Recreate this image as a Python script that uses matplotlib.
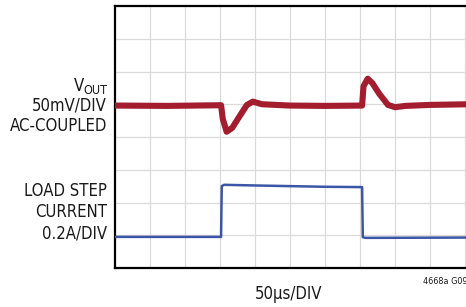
import matplotlib.pyplot as plt

# 示波器网格: 10 x 8 格
n_xdiv = 10
n_ydiv = 8

# VOUT 波形关键点 (单位: 格)
vout_t = [0, 1.5, 3.03, 3.08, 3.19, 3.35, 3.55, 3.77, 3.94, 4.2, 5.0, 6.0, 7.06, 7.1, 7.22, 7.35, 7.55, 7.8, 8.0, 8.3, 9.0, 10.1]
vout_v = [4.96, 4.95, 4.97, 4.55, 4.16, 4.28, 4.62, 4.98, 5.08, 5.0, 4.96, 4.95, 4.96, 5.55, 5.78, 5.65, 5.32, 4.98, 4.91, 4.95, 4.98, 5.0]

# 负载阶跃电流关键点
load_t = [0, 3.03, 3.05, 3.12, 4.0, 5.0, 6.0, 7.06, 7.08, 7.15, 10.1]
load_i = [0.95, 0.95, 2.5, 2.54, 2.52, 2.5, 2.48, 2.47, 0.94, 0.92, 0.93]

vout_color = "#A31D2E"
load_color = "#3B56A6"

W, H = 466, 307
fig = plt.figure(figsize=(W / 100, H / 100), dpi=100)

left, right, top, bottom = 115, 466, 6, 268
ax = fig.add_axes([left / W, 1 - bottom / H, (right - left) / W, (bottom - top) / H])
ax.set_xlim(0, (right - left) / 35.0)
ax.set_ylim(0, n_ydiv)

# 网格
for i in range(1, n_xdiv + 1):
    ax.axvline(i, color="#dadada", lw=0.9, zorder=1)
for j in range(1, n_ydiv):
    ax.axhline(j, color="#dadada", lw=0.9, zorder=1)

ax.plot(vout_t, vout_v, color=vout_color, lw=4.4, solid_joinstyle="round", zorder=3)
ax.plot(load_t, load_i, color=load_color, lw=1.8, zorder=3)

ax.set_xticks([])
ax.set_yticks([])
for side in ["left", "top", "bottom"]:
    ax.spines[side].set_linewidth(1.6)
    ax.spines[side].set_color("black")
ax.spines["right"].set_visible(False)


def px_text(x, y, s, size, ha="right", va="baseline"):
    fig.text(x / W, 1 - y / H, s, fontsize=size, ha=ha, va=va, family="DejaVu Sans",
             stretch="condensed", color="#1a1a1a")


# 左侧标签
px_text(84, 91, "V", 12)
px_text(107, 94, "OUT", 9)
px_text(107, 111, "50mV/DIV", 12)
px_text(107, 131, "AC-COUPLED", 12)
px_text(107, 196, "LOAD STEP", 12)
px_text(107, 217, "CURRENT", 12)
px_text(107, 238, "0.2A/DIV", 12)

px_text(289, 299, "50\u00b5s/DIV", 12, ha="center")
px_text(423, 284, "4668a G09", 6.5, ha="left")

fig.savefig("out.png", dpi=100)
